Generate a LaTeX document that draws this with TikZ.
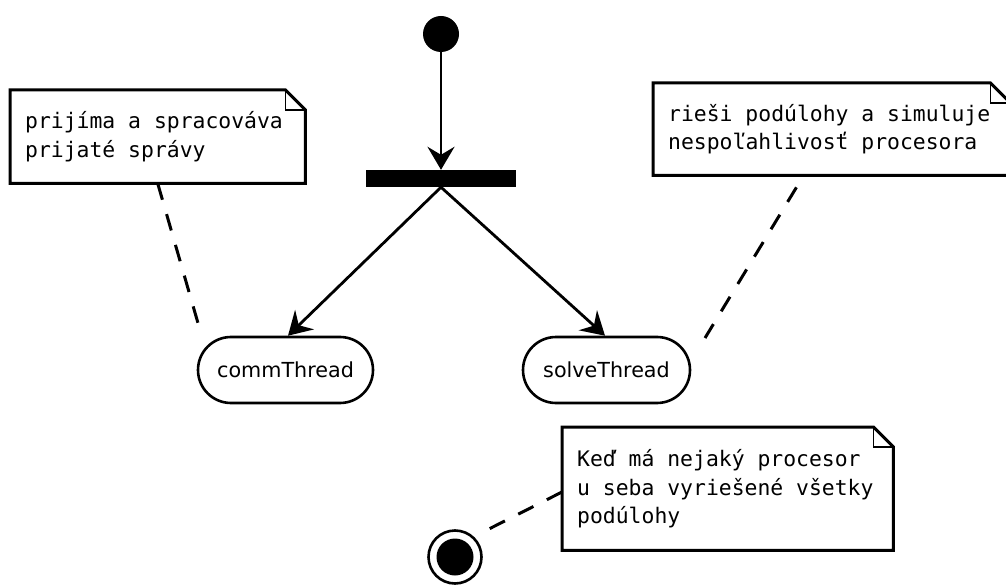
\documentclass[tikz,border=0pt]{standalone}
\usepackage{fontspec}
\setmainfont{DejaVu Sans}
\newfontfamily\notefont{DejaVu Sans Mono}
\usetikzlibrary{arrows.meta,shapes.misc}
\newcommand\notebox[1]{%
  \draw[line width=3pt, line join=miter] (#1.north west) -- ([xshift=-20pt]#1.north east) -- ([yshift=-20pt]#1.north east) -- (#1.south east) -- (#1.south west) -- cycle;
  \draw[line width=1.3pt] ([xshift=-20pt]#1.north east) |- ([yshift=-20pt]#1.north east);}
\newcommand\notetext{\notefont\spaceskip=12.88pt\relax}
\begin{document}
\begin{tikzpicture}[x=1pt,y=-1pt,
  state/.style={rounded rectangle, draw, line width=2.6pt, minimum height=66pt, inner sep=0pt,
    font=\fontsize{20.7}{24}\selectfont},
  note/.style={anchor=north west, align=left, inner ysep=0pt,
    font=\fontsize{21.4}{28.5}\selectfont},
  flow/.style={line width=2.8pt, -{Stealth[length=23pt,width=27pt,inset=8pt]}},
  anchorline/.style={line width=3pt, dash pattern=on 17pt off 15pt},
]
\useasboundingbox (0,0) rectangle (1006,585);

% initial node and fork bar
\node[circle, fill, minimum size=36pt, inner sep=0pt] (start) at (441,34) {};
\node[rectangle, fill, minimum width=150pt, minimum height=17pt, inner sep=0pt] (bar) at (441,178.5) {};

% activities
\node[state, minimum width=175pt] (comm) at (285.5,370) {commThread};
\node[state, minimum width=167pt] (solve) at (606.5,370) {solveThread};

% final node
\node[circle, draw, line width=2.6pt, minimum size=53pt, inner sep=0pt] (end) at (455,557) {};
\node[circle, fill, minimum size=37pt, inner sep=0pt] (endin) at (end) {};

% notes
\node[note, text width=265pt, inner xsep=15pt, minimum height=93pt] (note1) at (10,90)
  {\notetext prijíma a spracováva\\prijaté správy};
\node[note, text width=327pt, inner xsep=15pt, minimum height=92pt] (note2) at (653,83)
  {\notetext rieši podúlohy a simuluje\\nespoľahlivosť procesora};
\node[note, text width=301pt, inner xsep=15pt, minimum height=123pt] (note3) at (562,427)
  {\notetext Keď má nejaký procesor\\u seba vyriešené všetky\\podúlohy};
\notebox{note1}
\notebox{note2}
\notebox{note3}

% control flow
\draw[flow] (start) -- (bar.north);
\draw[flow] (bar.south) -- ([xshift=2.5pt]comm.north);
\draw[flow] (bar.south) -- ([xshift=-1.5pt]solve.north);

% note anchors
\coordinate (c1) at (202,337);
\coordinate (c2) at (705,338);
\coordinate (c3) at (483,532);
\draw[anchorline] (note1.south) -- (c1);
\draw[anchorline, dash phase=18pt] ([xshift=-28pt]note2.south) -- (c2);
\draw[anchorline] ([yshift=-65pt]note3.north west) -- (c3);
\end{tikzpicture}
\end{document}
